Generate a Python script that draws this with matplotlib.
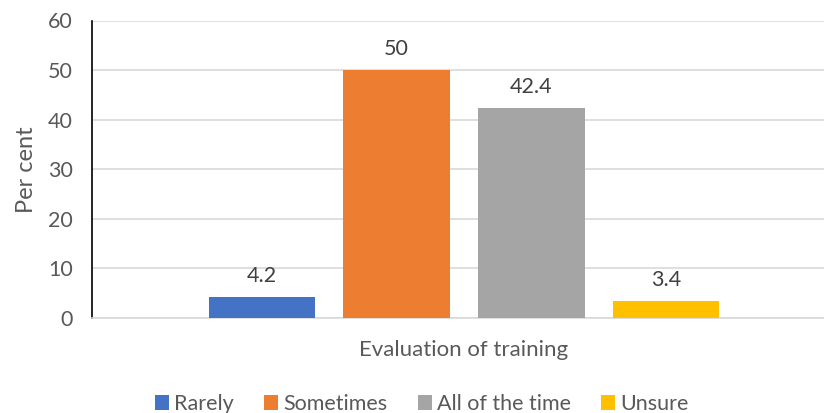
import matplotlib
matplotlib.use("Agg")
import matplotlib.pyplot as plt
from matplotlib.patches import Patch

plt.rcParams['font.family'] = ['Lato', 'DejaVu Sans']

categories = ["Rarely", "Sometimes", "All of the time", "Unsure"]
values = [4.2, 50, 42.4, 3.4]
colors = ["#4472C4", "#ED7D31", "#A5A5A5", "#FFC000"]
yticks = [0, 10, 20, 30, 40, 50, 60]

text_color = "#595959"

fig = plt.figure(figsize=(8.24, 4.13), dpi=100)
W, H = 824, 413
ax = fig.add_axes([92 / W, (H - 318) / H, (836 - 92) / W, (318 - 20.5) / H])

positions = list(range(len(values)))
bars = ax.bar(positions, values, width=0.79, color=colors, zorder=3)

for x, v in zip(positions, values):
    ax.annotate(f"{v:g}", xy=(x, v), xytext=(0, 8), textcoords="offset points",
                ha="center", va="bottom", fontsize=15.5, color="#404040")

ax.set_ylim(0, 60)
ax.set_xlim(-1.262, 4.262)
ax.set_yticks(yticks)
ax.set_xticks([])
ax.tick_params(axis="y", length=0, labelsize=15.5, labelcolor=text_color, pad=14)
ax.grid(axis="y", color="#D9D9D9", linewidth=1.2, zorder=0)

for side in ["top", "right"]:
    ax.spines[side].set_visible(False)
ax.spines["left"].set_color("black")
ax.spines["left"].set_linewidth(1.2)
ax.spines["bottom"].set_color("#D9D9D9")
ax.spines["bottom"].set_linewidth(1.2)

ax.set_ylabel("Per cent", fontsize=17, color=text_color, labelpad=8)
ax.set_xlabel("Evaluation of training", fontsize=16, color=text_color, labelpad=16)

handles = [Patch(facecolor=c, edgecolor="none") for c in colors]
fig.legend(handles, categories, loc="center", bbox_to_anchor=(0.512, 0.022),
           ncol=4, frameon=False, fontsize=15.5, labelcolor=text_color,
           handlelength=0.65, handleheight=0.65, handletextpad=0.25, columnspacing=1.4)

fig.savefig("out.png", dpi=100)
